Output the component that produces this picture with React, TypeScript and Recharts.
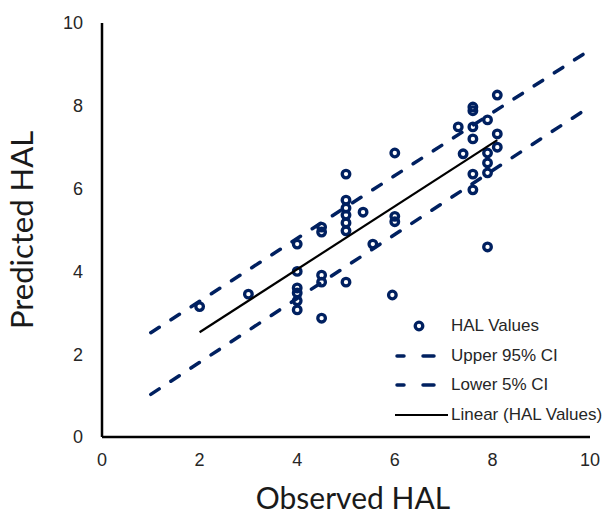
import React from 'react';
import { ScatterChart, Scatter, XAxis, YAxis, Legend, Label } from 'recharts';

// Observed vs predicted HAL values
const observed = [
  2, 3,
  4, 4, 4, 4, 4, 4,
  4.5, 4.5, 4.5, 4.5, 4.5,
  5, 5, 5, 5, 5, 5, 5,
  5.35, 5.55, 5.95,
  6, 6, 6,
  7.3, 7.4,
  7.6, 7.6, 7.6, 7.6, 7.6, 7.6,
  7.9, 7.9, 7.9, 7.9, 7.9,
  8.1, 8.1, 8.1,
];
const predicted = [
  3.15, 3.45,
  4.66, 4.0, 3.6, 3.48, 3.29, 3.07,
  5.07, 4.95, 3.91, 3.74, 2.87,
  6.35, 5.72, 5.53, 5.36, 5.17, 4.98, 3.74,
  5.43, 4.66, 3.43,
  6.86, 5.33, 5.2,
  7.49, 6.84,
  7.97, 7.88, 7.49, 7.2, 6.35, 5.97,
  7.66, 6.86, 6.62, 6.38, 4.59,
  8.26, 7.32, 7.0,
];

const upperX = [1, 10];
const upperY = [2.52, 9.35];
const lowerX = [1, 10];
const lowerY = [1.03, 7.98];
const trendX = [2, 8.1];
const trendY = [2.53, 7.17];

const xTicks = [0, 2, 4, 6, 8, 10];
const yTicks = [0, 2, 4, 6, 8, 10];

const seriesNames = ['HAL Values', 'Upper 95% CI', 'Lower 5% CI', 'Linear (HAL Values)'];

const zip = (xs: number[], ys: number[]) => xs.map((x, i) => ({ x, y: ys[i] }));
const halData = zip(observed, predicted);
const upperData = zip(upperX, upperY);
const lowerData = zip(lowerX, lowerY);
const trendData = zip(trendX, trendY);

const NAVY = '#002060';
const TEXT = '#262626';

const Ring = (props: any) => {
  const { cx, cy } = props;
  if (cx == null || cy == null) return <g />;
  return <circle cx={cx} cy={cy} r={3.8} fill="none" stroke={NAVY} strokeWidth={3.3} />;
};
const NoShape = () => <g />;

const XLabel = (props: any) => {
  const vb = props.viewBox;
  return (
    <text
      x={vb.x + vb.width / 2 + 7}
      y={vb.y + 72}
      textAnchor="middle"
      fontFamily="Lato"
      fontSize={30}
      fill="#1a1a1a"
    >
      Observed HAL
    </text>
  );
};

const YLabel = (props: any) => {
  const vb = props.viewBox;
  const cx = 33;
  const cy = vb.y + vb.height / 2;
  return (
    <text
      x={cx}
      y={cy}
      transform={`rotate(-90, ${cx}, ${cy})`}
      textAnchor="middle"
      fontFamily="Lato"
      fontSize={31}
      fill="#1a1a1a"
    >
      Predicted HAL
    </text>
  );
};

const LegendContent = () => {
  const row: React.CSSProperties = {
    display: 'flex',
    alignItems: 'center',
    height: 29.7,
  };
  const txt: React.CSSProperties = {
    fontFamily: '"Liberation Sans", Arial, sans-serif',
    fontSize: 17,
    color: TEXT,
    whiteSpace: 'nowrap',
  };
  const icon = (i: number) => {
    if (i === 0)
      return <circle cx={26} cy={10} r={3.8} fill="none" stroke={NAVY} strokeWidth={3.3} />;
    if (i === 3) return <line x1={2} y1={10} x2={55} y2={10} stroke="#000" strokeWidth={2} />;
    return (
      <g stroke={NAVY} strokeWidth={3.5} strokeLinecap="round">
        <line x1={4} y1={10} x2={11} y2={10} />
        <line x1={30} y1={10} x2={41} y2={10} />
      </g>
    );
  };
  return (
    <div>
      {seriesNames.map((n, i) => (
        <div key={n} style={row}>
          <svg width={58} height={20} style={{ display: 'block' }}>
            {icon(i)}
          </svg>
          <span style={txt}>{n}</span>
        </div>
      ))}
    </div>
  );
};

export default function App() {
  const tickStyle = { fontFamily: '"Liberation Sans", Arial, sans-serif', fontSize: 18, fill: TEXT };
  return (
    <div style={{ position: 'absolute', left: 0, top: 0, width: 610, height: 515, background: '#fff' }}>
      <ScatterChart width={610} height={515} margin={{ top: 23, right: 20, bottom: 0, left: 0 }}>
        <XAxis
          type="number"
          dataKey="x"
          domain={[0, 10]}
          ticks={xTicks}
          tickLine={false}
          tickSize={0}
          tickMargin={16}
          height={78}
          axisLine={{ stroke: '#000', strokeWidth: 2.5 }}
          tick={tickStyle}
          label={<Label content={XLabel} />}
        />
        <YAxis
          type="number"
          dataKey="y"
          domain={[0, 10]}
          ticks={yTicks}
          tickLine={false}
          tickSize={0}
          tickMargin={19}
          width={102}
          axisLine={{ stroke: '#000', strokeWidth: 2.5 }}
          tick={tickStyle}
          label={<Label content={YLabel} />}
        />
        <Legend
          content={LegendContent}
          layout="horizontal"
          verticalAlign="middle"
          align="center"
          wrapperStyle={{ left: 393, top: 311, width: 220 }}
        />
        <Scatter name={seriesNames[0]} data={halData} shape={Ring} isAnimationActive={false} />
        <Scatter
          name={seriesNames[1]}
          data={upperData}
          shape={NoShape}
          line={{ stroke: NAVY, strokeWidth: 3.5, strokeDasharray: '10 14', strokeLinecap: 'round' }}
          isAnimationActive={false}
        />
        <Scatter
          name={seriesNames[2]}
          data={lowerData}
          shape={NoShape}
          line={{ stroke: NAVY, strokeWidth: 3.5, strokeDasharray: '10 14', strokeLinecap: 'round' }}
          isAnimationActive={false}
        />
        <Scatter
          name={seriesNames[3]}
          data={trendData}
          shape={NoShape}
          line={{ stroke: '#000', strokeWidth: 2.2 }}
          isAnimationActive={false}
        />
      </ScatterChart>
    </div>
  );
}
